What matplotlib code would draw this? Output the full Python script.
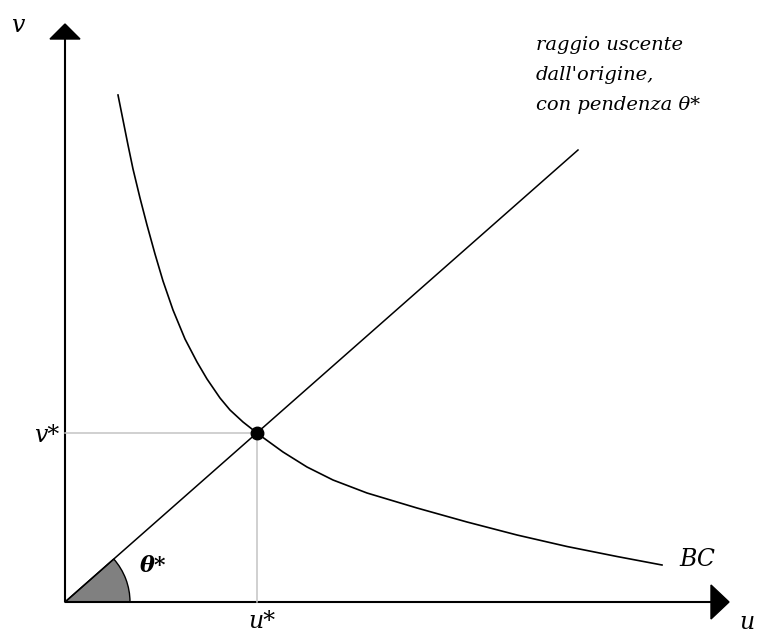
import numpy as np
import matplotlib.pyplot as plt
from matplotlib.patches import Polygon, Wedge

# curve BC (units: 100 px from the origin)
bc_u = [0.53, 0.58, 0.63, 0.68, 0.75, 0.82, 0.90, 0.98, 1.08, 1.20, 1.32, 1.42,
        1.55, 1.65, 1.78, 1.92, 1.98, 2.18, 2.42, 2.68, 3.02, 3.52, 4.02,
        4.52, 5.02, 5.52, 5.97]
bc_v = [5.07, 4.82, 4.57, 4.33, 4.04, 3.77, 3.48, 3.21, 2.92, 2.63, 2.40, 2.23,
        2.04, 1.92, 1.80, 1.69, 1.645, 1.50, 1.35, 1.22, 1.09, 0.94, 0.80,
        0.67, 0.555, 0.455, 0.37]

# ray from the origin and the equilibrium point
ray_u = [0.0, 5.13]
ray_v = [0.0, 4.52]
u_star = 1.92
v_star = 1.69

text_lines = ["raggio uscente", "dall'origine,", "con pendenza θ*"]

fig = plt.figure(figsize=(7.57, 6.35), dpi=100)
ax = fig.add_axes([0, 0, 1, 1])
ax.set_xlim(-0.65, 6.92)
ax.set_ylim(-0.33, 6.02)
ax.axis('off')

# axes with arrow heads
ax.plot([0, 0], [0, 5.63], color='black', lw=1.5, solid_capstyle='butt')
ax.plot([0, 6.47], [0, 0], color='black', lw=1.5, solid_capstyle='butt')
ax.add_patch(Polygon([[-0.15, 5.63], [0.15, 5.63], [0, 5.78]], closed=True, color='black'))
ax.add_patch(Polygon([[6.46, 0.17], [6.46, -0.17], [6.64, 0]], closed=True, color='black'))

# guide lines
ax.plot([0, u_star], [v_star, v_star], color='#c4c4c4', lw=1.1)
ax.plot([u_star, u_star], [0, v_star], color='#c4c4c4', lw=1.1)

# angle wedge
theta = np.degrees(np.arctan2(ray_v[1], ray_u[1]))
ax.add_patch(Wedge((0, 0), 0.65, 0, theta, facecolor='#808080', edgecolor='black', lw=1.0))

ax.plot(ray_u, ray_v, color='black', lw=1.1)
ax.plot(bc_u, bc_v, color='black', lw=1.2, solid_joinstyle='round')
ax.plot([u_star], [v_star], 'o', color='black', ms=9)

lab = dict(family='DejaVu Serif', style='italic', color='black')
ax.text(-0.47, 5.77, 'v', fontsize=17, ha='center', va='center', **lab)
ax.text(-0.06, 1.67, 'v*', fontsize=17, ha='right', va='center', **lab)
ax.text(1.97, -0.26, 'u*', fontsize=17, ha='center', va='baseline', **lab)
ax.text(0.88, 0.36, 'θ*', fontsize=16, ha='center', va='center', weight='bold', **lab)
ax.text(6.32, 0.42, 'BC', fontsize=17, ha='center', va='center', **lab)
ax.text(6.82, -0.27, 'u', fontsize=17, ha='center', va='baseline', **lab)

for i, line in enumerate(text_lines):
    ax.text(4.71, 5.57 - 0.30 * i, line, fontsize=14, ha='left', va='center', **lab)

fig.savefig('out.png', dpi=100)
